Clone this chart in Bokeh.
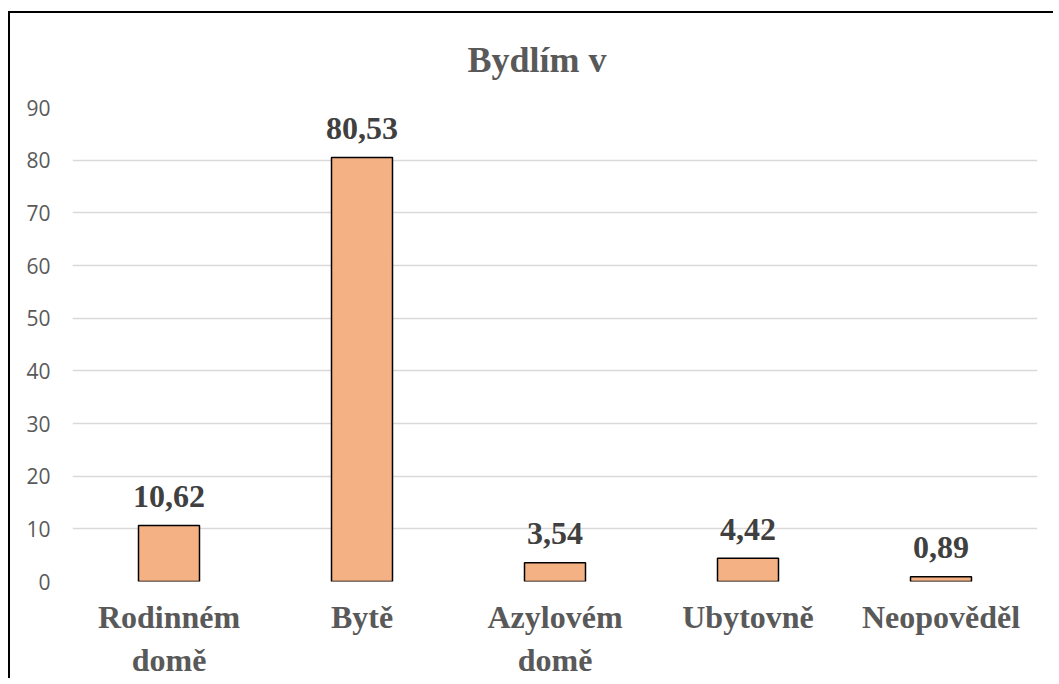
from bokeh.plotting import figure
from bokeh.models import ColumnDataSource, FixedTicker
from bokeh.core.properties import value
from bokeh.embed import file_html
from bokeh.resources import INLINE

categories = ["Rodinném\ndomě", "Bytě", "Azylovém\ndomě", "Ubytovně", "Neopověděl"]
values = [10.62, 80.53, 3.54, 4.42, 0.89]
value_labels = ["10,62", "80,53", "3,54", "4,42", "0,89"]
y_ticks = [0, 10, 20, 30, 40, 50, 60, 70, 80, 90]
title_text = "Bydlím v"

src = ColumnDataSource(dict(cat=categories, val=values, lab=value_labels))

p = figure(x_range=categories, y_range=(0, 90), width=1045, height=667,
           output_backend="svg", toolbar_location=None, title=title_text,
           min_border_left=62, min_border_right=18, min_border_top=94, min_border_bottom=79)
p.styles = {"margin-left": "8px", "margin-top": "11px",
            "border-left": "2px solid #000000", "border-top": "2px solid #000000"}
p.outline_line_color = None
p.background_fill_color = "white"
p.border_fill_color = "white"

p.title.align = "left"
p.title.vertical_align = "top"
p.title.offset = 395
p.title.standoff = 52
p.title.text_font = "Liberation Serif"
p.title.text_font_style = "bold"
p.title.text_font_size = "36px"
p.title.text_color = "#595959"

p.vbar(x="cat", top="val", width=0.316, source=src,
       fill_color="#F4B183", line_color="#000000", line_width=1.5)

p.text(x="cat", y="val", text="lab", source=src, y_offset=-29,
       text_align="center", text_baseline="alphabetic",
       text_font=value("Liberation Serif"), text_font_style="bold",
       text_font_size="32px", text_color="#404040")

p.xgrid.grid_line_color = None
p.ygrid.grid_line_color = "#D9D9D9"
p.ygrid.grid_line_width = 1.5

p.yaxis.ticker = FixedTicker(ticks=y_ticks)
p.yaxis.axis_line_color = None
p.yaxis.major_tick_line_color = None
p.yaxis.minor_tick_line_color = None
p.yaxis.major_label_text_font = "Open Sans"
p.yaxis.major_label_text_font_size = "21px"
p.yaxis.major_label_text_color = "#595959"
p.yaxis.major_label_standoff = 16

p.xaxis.axis_line_color = None
p.xaxis.major_tick_line_color = None
p.xaxis.minor_tick_line_color = None
p.xaxis.major_label_text_font = "Liberation Serif"
p.xaxis.major_label_text_font_style = "bold"
p.xaxis.major_label_text_font_size = "32px"
p.xaxis.major_label_text_color = "#595959"
p.xaxis.major_label_standoff = 11

open("out.html", "w").write(file_html(p, INLINE))
